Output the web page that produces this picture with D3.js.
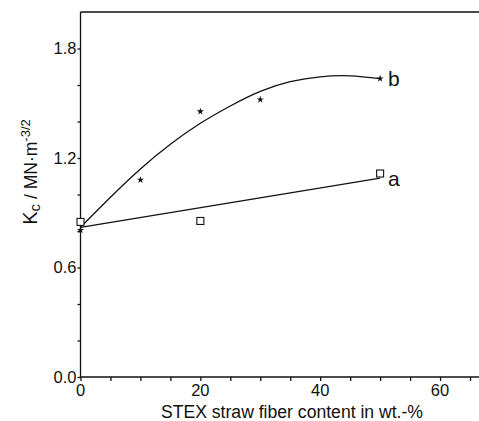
<!DOCTYPE html>
<html>
<head>
<meta charset="utf-8">
<script src="https://d3js.org/d3.v7.min.js"></script>
<style>
  body { margin: 0; background: #fff; }
  text { font-family: "Liberation Sans", Arial, sans-serif; fill: #111; }
  .axis path, .axis line { stroke: #111; stroke-width: 1.3; }
</style>
</head>
<body>
<div id="chart"></div>
<script>
// measured points, series a (open squares)
var aX = [0, 20, 50];
var aY = [0.85, 0.855, 1.115];
// series a linear fit, end points
var aFitX = [0, 50];
var aFitY = [0.82, 1.09];

// measured points, series b (stars)
var bX = [0, 10, 20, 30, 50];
var bY = [0.805, 1.08, 1.455, 1.52, 1.635];
// series b fitted curve
var bFitX = [0, 5, 10, 15, 20, 25, 30, 35, 40, 45, 50];
var bFitY = [0.82, 0.985, 1.14, 1.275, 1.39, 1.485, 1.565, 1.618, 1.645, 1.65, 1.635];

var xTicks = [0, 20, 40, 60];
var yTicks = [0.0, 0.6, 1.2, 1.8];

var W = 479, H = 421;
var margin = { top: 12, right: 0, bottom: 44, left: 80.5 };

var svg = d3.select("#chart").append("svg")
    .attr("width", W).attr("height", H);

var x = d3.scaleLinear().domain([0, 66.5]).range([margin.left, W - margin.right]);
var y = d3.scaleLinear().domain([0, 2]).range([H - margin.bottom, margin.top]);

// frame top
svg.append("line")
    .attr("x1", x(0)).attr("x2", W)
    .attr("y1", y(2)).attr("y2", y(2))
    .attr("stroke", "#111").attr("stroke-width", 1.3);

// x axis
var gx = svg.append("g").attr("class", "axis")
    .attr("transform", "translate(0," + y(0) + ")")
    .call(d3.axisBottom(x).tickValues(d3.range(0, 70, 5)).tickSize(4).tickFormat(""));
gx.select(".domain").attr("d", "M" + x(0) + ",0H" + W);
gx.append("g").selectAll("text").data(xTicks).enter().append("text")
    .attr("x", function(d) { return x(d); })
    .attr("y", 19)
    .attr("text-anchor", "middle")
    .style("font-size", "16.5px")
    .text(function(d) { return d; });

// y axis
var gy = svg.append("g").attr("class", "axis")
    .attr("transform", "translate(" + x(0) + ",0)")
    .call(d3.axisLeft(y).tickValues(d3.range(0, 2.0, 0.2)).tickSize(3).tickFormat(""));
gy.select(".domain").attr("d", "M0," + y(2) + "V" + y(0));
gy.append("g").selectAll("text").data(yTicks).enter().append("text")
    .attr("x", -4)
    .attr("y", function(d) { return y(d); })
    .attr("dy", "0.36em")
    .attr("text-anchor", "end")
    .style("font-size", "16.5px")
    .text(function(d) { return d.toFixed(1); });

// axis titles
svg.append("text")
    .attr("x", 292).attr("y", 418)
    .attr("text-anchor", "middle")
    .style("font-size", "17.6px")
    .text("STEX straw fiber content in wt.-%");

var yt = svg.append("text")
    .attr("transform", "translate(37,172) rotate(-90)")
    .attr("text-anchor", "middle")
    .style("font-size", "17.5px");
yt.append("tspan").style("font-size", "20px").text("K");
yt.append("tspan").attr("dy", 3).style("font-size", "15px").text("c");
yt.append("tspan").attr("dy", -3).text(" / MN\u00b7m");
yt.append("tspan").attr("dy", -7).style("font-size", "13px").text("-3/2");

var line = d3.line()
    .x(function(d) { return x(d[0]); })
    .y(function(d) { return y(d[1]); });

svg.append("path")
    .datum(d3.zip(aFitX, aFitY))
    .attr("d", line)
    .attr("fill", "none").attr("stroke", "#111").attr("stroke-width", 1.3);

svg.append("path")
    .datum(d3.zip(bFitX, bFitY))
    .attr("d", line.curve(d3.curveNatural))
    .attr("fill", "none").attr("stroke", "#111").attr("stroke-width", 1.3);

// squares
svg.selectAll(".sq").data(d3.zip(aX, aY)).enter().append("rect")
    .attr("x", function(d) { return x(d[0]) - 3.5; })
    .attr("y", function(d) { return y(d[1]) - 3.5; })
    .attr("width", 7).attr("height", 7)
    .attr("fill", "#fff").attr("stroke", "#111").attr("stroke-width", 1.1);

// stars
svg.selectAll(".st").data(d3.zip(bX, bY)).enter().append("path")
    .attr("transform", function(d) { return "translate(" + x(d[0]) + "," + y(d[1]) + ")"; })
    .attr("d", d3.symbol(d3.symbolStar, 16))
    .attr("fill", "#111");

// series labels
svg.append("text").attr("x", x(51.3)).attr("y", y(1.635)).attr("dy", "0.36em")
    .style("font-size", "21px").text("b");
svg.append("text").attr("x", x(51.3)).attr("y", y(1.09)).attr("dy", "0.36em")
    .style("font-size", "21px").text("a");
</script>
</body>
</html>
